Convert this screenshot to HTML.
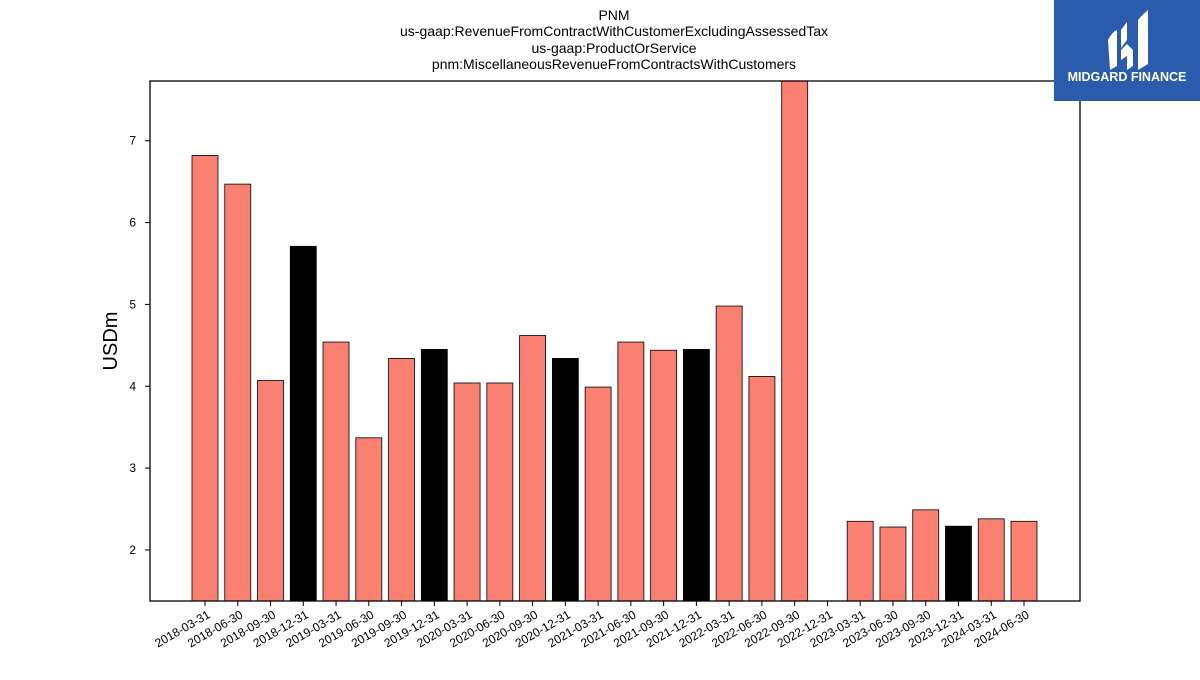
<!DOCTYPE html>
<html><head><meta charset="utf-8"><style>
body{margin:0;background:#fff;width:1200px;height:675px;overflow:hidden;font-family:"Liberation Sans","DejaVu Sans",sans-serif}
</style></head><body>
<svg id="c" width="1200" height="675">
<g font-size="14" text-anchor="middle" fill="#000">
<text x="614" y="20">PNM</text>
<text x="614" y="36">us-gaap:RevenueFromContractWithCustomerExcludingAssessedTax</text>
<text x="614" y="53">us-gaap:ProductOrService</text>
<text x="614" y="69">pnm:MiscellaneousRevenueFromContractsWithCustomers</text>
</g>
<g id="bars"></g>
<g id="yax"></g>
<g id="xax"></g>
<rect x="150" y="81" width="930" height="520" fill="none" stroke="#000" stroke-width="1.3"/>
<text transform="translate(117,341) rotate(-90)" font-size="20" text-anchor="middle">USDm</text>
<g>
<rect x="1054" y="0" width="146" height="101" fill="#2b5bad"/>
<path d="M1108 40 Q1112 32 1117 30 L1117 66 L1110 70 Z" fill="#fff"/>
<path d="M1121 30 L1127 22 L1127 40 L1121 48 Z M1121 50 L1127 44 L1133 50 L1133 66 L1127 70 L1127 56 L1121 60 Z" fill="#fff"/>
<path d="M1138 20 Q1143 14 1148 10 L1148 64 L1138 70 Z" fill="#fff"/>
<text x="1127" y="81" font-size="12.5" font-weight="bold" fill="#fff" text-anchor="middle">MIDGARD FINANCE</text>
</g>
</svg>
<script>
const categories=["2018-03-31","2018-06-30","2018-09-30","2018-12-31","2019-03-31","2019-06-30","2019-09-30","2019-12-31","2020-03-31","2020-06-30","2020-09-30","2020-12-31","2021-03-31","2021-06-30","2021-09-30","2021-12-31","2022-03-31","2022-06-30","2022-09-30","2022-12-31","2023-03-31","2023-06-30","2023-09-30","2023-12-31","2024-03-31","2024-06-30"];
const values=[6.82,6.47,4.07,5.71,4.54,3.37,4.34,4.45,4.04,4.04,4.62,4.34,3.99,4.54,4.44,4.45,4.98,4.12,8.2,null,2.35,2.28,2.49,2.29,2.38,2.35];
const yTicks=[2,3,4,5,6,7];
const ns="http://www.w3.org/2000/svg";
const L=150,R=1080,T=81,B=601,yMin=1.376,yMax=7.73;
const y=v=>B-(v-yMin)/(yMax-yMin)*(B-T);
const x0=205,step=32.76;
const x=i=>x0+i*step;
const bars=document.getElementById('bars'),yax=document.getElementById('yax'),xax=document.getElementById('xax');
function mk(t,a,p){const e=document.createElementNS(ns,t);for(const k in a)e.setAttribute(k,a[k]);p.appendChild(e);return e;}
const clip=mk('clipPath',{id:'cp'},document.getElementById('c'));mk('rect',{x:L,y:T,width:R-L,height:B-T},clip);
bars.setAttribute('clip-path','url(#cp)');
values.forEach((v,i)=>{
 if(v==null)return;
 const top=y(v);
 const r=mk('rect',{x:x(i)-13,y:top,width:26,height:B-top,fill:categories[i].endsWith('12-31')?'#000':'#fa8072',stroke:'#000','stroke-width':0.8},bars);
 
 
});
yTicks.forEach(t=>{
 const l=mk('line',{x1:L-5,x2:L,y1:y(t),y2:y(t),stroke:'#000'},yax);
 
 
 const tx=mk('text',{x:L-14,y:y(t)+4,'font-size':12,'text-anchor':'end'},yax);tx.textContent=t;
 
 
});
categories.forEach((c,i)=>{
 const l=mk('line',{x1:x(i),x2:x(i),y1:B,y2:B+5,stroke:'#000'},xax);
 
 
 const tx=mk('text',{transform:`translate(${x(i)+6},${B+16}) rotate(-30)`,'font-size':12,'text-anchor':'end'},xax);tx.textContent=c;
 
 
});
</script>
</body></html>
